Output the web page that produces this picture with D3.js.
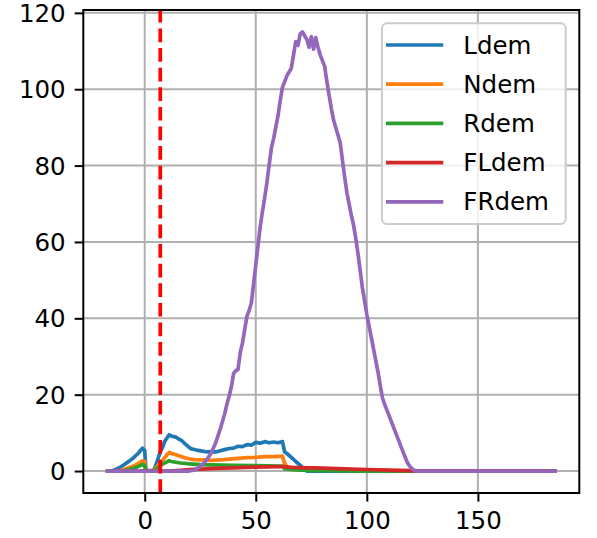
<!DOCTYPE html>
<html><head><meta charset="utf-8">
<script src="https://cdn.jsdelivr.net/npm/d3@7/dist/d3.min.js"></script>
<style>body{margin:0;background:#fff}svg{display:block}text{font-family:"DejaVu Sans",sans-serif;fill:#000}</style>
</head><body><div id="chart"></div>
<script>
// ---- data (x, value) pairs per series ----
const seriesNames = ["Ldem","Ndem","Rdem","FLdem","FRdem"];
const seriesColors = ["#1f77b4","#ff7f0e","#2ca02c","#d62728","#9467bd"];
const ldem = [[-17.5,0],[-15,0],[-13,0.4],[-11,1.0],[-9,1.8],[-7,2.6],[-5,3.5],[-3,4.6],[-1,6.0],[0,5.4],[0.5,0.3],[2,0],[4,0.2],[5,1.5],[6,3.3],[7,5.0],[8,6.2],[9,7.8],[10,8.6],[11,9.5],[12,9.2],[13,9.0],[14,8.9],[15,8.5],[16,8.2],[17,7.8],[18,7.2],[19,6.7],[20,6.2],[21,5.8],[22,5.7],[24,5.4],[26,5.2],[28,5.0],[30,5.1],[32,5.0],[34,5.3],[36,5.6],[38,5.9],[40,6.0],[42,6.5],[44,6.4],[46,6.9],[48,6.8],[50,7.5],[52,7.3],[54,7.7],[56,7.4],[58,7.6],[60,7.4],[62,7.7],[63,5.0],[64,4.6],[66,3.6],[68,2.5],[70,1.5],[72,0.4],[73,0],[185.5,0]];
const ndem = [[-17.5,0],[-12,0],[-10,0.3],[-7,0.9],[-4,1.6],[-1,2.7],[0,2.5],[0.5,0.1],[4,0.1],[6,1.5],[8,2.8],[10,4.2],[11,4.9],[12,4.6],[14,4.3],[16,3.9],[18,3.5],[20,3.2],[22,3.0],[26,2.9],[30,2.8],[34,2.9],[38,3.1],[42,3.3],[46,3.5],[50,3.6],[54,3.8],[58,3.8],[62,3.9],[63,2.0],[64,1.2],[66,1.0],[70,0.8],[80,0.6],[90,0.4],[100,0.2],[110,0.05],[120,0],[185.5,0]];
const rdem = [[-17.5,0],[-10,0],[-7,0.4],[-4,0.9],[-1,1.7],[0,1.5],[0.5,0],[4,0],[6,0.8],[8,1.8],[10,2.4],[11,2.7],[12,2.5],[14,2.3],[16,2.1],[20,1.9],[25,1.7],[30,1.6],[40,1.5],[50,1.4],[60,1.3],[62,1.3],[63,0.6],[66,0.4],[70,0.25],[80,0.1],[90,0.05],[100,0],[185.5,0]];
const fldem = [[-17.5,0],[10,0],[15,0.15],[20,0.35],[25,0.5],[30,0.65],[35,0.75],[40,0.85],[45,0.95],[50,1.05],[55,1.1],[60,1.15],[63,1.15],[65,1.0],[70,0.9],[80,0.75],[90,0.55],[100,0.4],[110,0.25],[120,0.1],[125,0],[185.5,0]];
const frdem = [[-17.5,0],[20,0],[22,0.2],[24,0.8],[26,1.7],[28,3],[30,4.8],[32,7.5],[34,11],[35,13],[36,15],[37,17.5],[38,19.6],[39,22],[40,25.5],[41,26.3],[42,26.6],[43,31],[44,33.5],[45,37],[46,40.5],[47,42],[48,44],[49,49],[50,54],[51,59],[52,64],[53,68],[54,71.5],[55,75.5],[56,80],[57,84.5],[58,87],[59,90],[60,93],[61,97],[62,100.5],[63,102],[64,103.5],[65,104.5],[66,105.5],[67,109],[68,112.5],[69,111.5],[70,114.5],[71,115],[72,114],[73,113],[74,111],[75,113.8],[76,110.5],[77,113.5],[78,111],[79,109],[80,107.5],[81,106],[82,102],[83,98.5],[84,95],[85,92],[86,90],[87,88],[88,86],[89,81.5],[90,77],[91,73],[92,70],[93,67],[94,64.5],[95,61],[96,57],[97,52.5],[98,48],[99,44.5],[100,41],[101,38],[102,35],[103,32],[104,29],[105,26],[106,22.5],[107,19.2],[108,17.5],[109,16],[110,14.5],[111,13],[112,11.5],[113,10],[114,8.5],[115,7],[116,5.5],[117,4],[118,2.5],[119,1.5],[120,0.8],[121,0.3],[122,0],[185.5,0]];
const seriesData = [ldem, ndem, rdem, fldem, frdem];
const vlineX = 7;
const xTicks = [0, 50, 100, 150];
const yTicks = [0, 20, 40, 60, 80, 100, 120];

// ---- layout ----
const W = 597, H = 538;
const L = 83.3, R = 579.3, T = 10, B = 493;
const svg = d3.select("#chart").append("svg").attr("width", W).attr("height", H);

const allX = seriesData.flat().map(d => d[0]);
const allY = seriesData.flat().map(d => d[1]);
const xMin = d3.min(allX), xMax = d3.max(allX), yMin = d3.min(allY), yMax = d3.max(allY);
const xp = 0.05 * (xMax - xMin), yp = 0.05 * (yMax - yMin);
const x = d3.scaleLinear().domain([xMin - xp, xMax + xp]).range([L, R]);
const y = d3.scaleLinear().domain([yMin - yp, yMax + yp]).range([B, T]);

svg.append("defs").append("clipPath").attr("id", "clip")
  .append("rect").attr("x", L).attr("y", T).attr("width", R - L).attr("height", B - T);

// grid
const grid = svg.append("g").attr("stroke", "#b0b0b0").attr("stroke-width", 2);
xTicks.forEach(t => grid.append("line").attr("x1", x(t)).attr("x2", x(t)).attr("y1", T).attr("y2", B));
yTicks.forEach(t => grid.append("line").attr("x1", L).attr("x2", R).attr("y1", y(t)).attr("y2", y(t)));

// series
const line = d3.line().x(d => x(d[0])).y(d => y(d[1]));
const plot = svg.append("g").attr("clip-path", "url(#clip)");
seriesData.forEach((s, i) => {
  plot.append("path").datum(s).attr("d", line).attr("fill", "none")
    .attr("stroke", seriesColors[i]).attr("stroke-width", 3.7)
    .attr("stroke-linejoin", "round").attr("stroke-linecap", "butt");
});
// red dashed vertical line (drawn bottom to top)
plot.append("line").attr("x1", x(vlineX)).attr("x2", x(vlineX)).attr("y1", B).attr("y2", T)
  .attr("stroke", "#ff0000").attr("stroke-width", 3.7).attr("stroke-dasharray", "13.7,5.9");

// axes
const xAxis = d3.axisBottom(x).tickValues(xTicks).tickSize(8.6).tickPadding(9);
const yAxis = d3.axisLeft(y).tickValues(yTicks).tickSize(8.6).tickPadding(9);
const gx = svg.append("g").attr("transform", `translate(0,${B})`).call(xAxis);
const gy = svg.append("g").attr("transform", `translate(${L},0)`).call(yAxis);
[gx, gy].forEach(g => {
  g.select(".domain").remove();
  g.selectAll(".tick line").attr("stroke", "#000").attr("stroke-width", 2);
  g.selectAll(".tick text").attr("font-size", 24.5).attr("font-family", "DejaVu Sans").attr("fill", "#000");
});
gy.selectAll(".tick text").attr("dy", "0.35em");
gx.selectAll(".tick text").attr("dy", "0.76em");

// frame
svg.append("rect").attr("x", L).attr("y", T).attr("width", R - L).attr("height", B - T)
  .attr("fill", "none").attr("stroke", "#000").attr("stroke-width", 2);

// legend
const lg = svg.append("g");
lg.append("rect").attr("x", 382).attr("y", 23.3).attr("width", 183.7).attr("height", 200.7)
  .attr("rx", 5).attr("fill", "#fff").attr("fill-opacity", 0.8)
  .attr("stroke", "#cccccc").attr("stroke-width", 2);
seriesNames.forEach((n, i) => {
  const cy = 45 + i * 39.2;
  lg.append("line").attr("x1", 386).attr("x2", 443.3).attr("y1", cy).attr("y2", cy)
    .attr("stroke", seriesColors[i]).attr("stroke-width", 3.7);
  lg.append("text").attr("x", 463.3).attr("y", cy).attr("dy", "0.35em")
    .attr("font-size", 24.5).text(n);
});
</script></body></html>
